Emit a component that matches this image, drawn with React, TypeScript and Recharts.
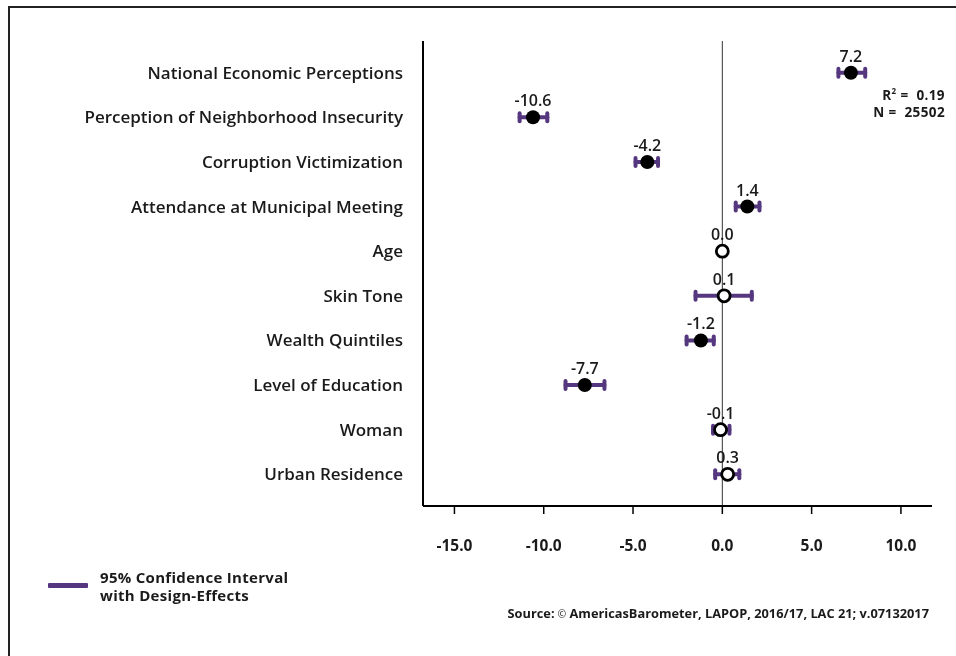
import React from 'react';
import { ScatterChart, Scatter, XAxis, YAxis, ErrorBar, ReferenceLine } from 'recharts';

const predictors = [
  'National Economic Perceptions',
  'Perception of Neighborhood Insecurity',
  'Corruption Victimization',
  'Attendance at Municipal Meeting ',
  'Age',
  'Skin Tone',
  'Wealth Quintiles',
  'Level of Education',
  'Woman',
  'Urban Residence',
];
const coefficients = [7.2, -10.6, -4.2, 1.4, 0.0, 0.1, -1.2, -7.7, -0.1, 0.3];
const ciLow = [6.5, -11.35, -4.86, 0.75, -0.15, -1.5, -2.0, -8.78, -0.52, -0.4];
const ciHigh = [8.0, -9.8, -3.6, 2.08, 0.15, 1.65, -0.48, -6.6, 0.4, 0.95];
const significant = [true, true, true, true, false, false, true, true, false, false];
const xTicks = [-15, -10, -5, 0, 5, 10];
const rowTicks = [0, 1, 2, 3, 4, 5, 6, 7, 8, 9];

const rows = predictors.map((name, i) => ({
  row: i,
  name,
  coef: coefficients[i],
  err: [coefficients[i] - ciLow[i], ciHigh[i] - coefficients[i]],
  sig: significant[i],
}));

const FONT = '"Open Sans", sans-serif';
const PURPLE = '#55377f';
const INK = '#1a1a1a';

// point + value label above it
const CoefDot = (props: any) => {
  const { cx, cy, payload } = props;
  return (
    <g>
      {payload.sig ? (
        <circle cx={cx} cy={cy} r={7} fill="#000" />
      ) : (
        <circle cx={cx} cy={cy} r={6} fill="#fff" stroke="#000" strokeWidth={2.8} />
      )}
      <text x={cx} y={cy - 11} textAnchor="middle" fontFamily={FONT} fontSize={16} fontWeight={600} fill={INK}>
        {payload.coef.toFixed(1)}
      </text>
    </g>
  );
};

export default function App() {
  return (
    <div style={{ position: 'relative', width: 948, height: 642, marginTop: -2, fontFamily: FONT }}>
      <div
        style={{
          position: 'fixed', left: 8, top: 6, width: 948, height: 650, boxSizing: 'border-box',
          borderTop: '2px solid #222', borderLeft: '2px solid #222', pointerEvents: 'none',
        }}
      />
      <ScatterChart width={948} height={640} margin={{ top: 35, right: 24, left: 15, bottom: 80 }}>
        <XAxis
          type="number"
          dataKey="coef"
          domain={[-16.76, 11.74]}
          allowDataOverflow
          ticks={xTicks}
          interval={0}
          tickFormatter={(v: number) => v.toFixed(1)}
          height={60}
          tickSize={8}
          tickMargin={26}
          axisLine={{ stroke: '#000', strokeWidth: 2 }}
          tickLine={{ stroke: '#000', strokeWidth: 1.5 }}
          tick={{ fill: INK, fontSize: 15.5, fontWeight: 700, fontFamily: FONT }}
        />
        <YAxis
          type="number"
          dataKey="row"
          domain={[-0.71, 9.71]}
          allowDataOverflow
          reversed
          ticks={rowTicks}
          interval={0}
          tickFormatter={(i: number) => predictors[i]}
          width={400}
          tickLine={false}
          tickSize={0}
          tickMargin={20}
          axisLine={{ stroke: '#000', strokeWidth: 2 }}
          tick={{ fill: INK, fontSize: 17, fontWeight: 600, fontFamily: FONT }}
        />
        <ReferenceLine x={0} stroke="#333" strokeWidth={1} />
        <Scatter data={rows} shape={CoefDot} isAnimationActive={false}>
          <ErrorBar dataKey="err" direction="x" width={4} stroke={PURPLE} strokeWidth={4} strokeLinecap="round" />
        </Scatter>
      </ScatterChart>

      {/* fit statistics */}
      <div
        style={{
          position: 'absolute', right: 11, top: 81, textAlign: 'right', fontSize: 13.5, lineHeight: '17px',
          fontWeight: 700, color: INK, whiteSpace: 'pre', letterSpacing: 0.4,
        }}
      >
        <div>
          R<sup style={{ fontSize: 8, verticalAlign: 6, lineHeight: 0 }}>2</sup> =  0.19
        </div>
        <div>N =  25502</div>
      </div>

      {/* legend */}
      <div style={{ position: 'absolute', left: 40, top: 577, width: 40, height: 5, background: PURPLE, borderRadius: 1 }} />
      <div
        style={{
          position: 'absolute', left: 92, top: 562, fontSize: 15, lineHeight: '18px', fontWeight: 700, color: INK,
          letterSpacing: 0.3,
        }}
      >
        <div>95% Confidence Interval</div>
        <div>with Design-Effects</div>
      </div>

      {/* source */}
      <div
        style={{
          position: 'absolute', right: 27, top: 600, fontSize: 12.8, lineHeight: '15px', fontWeight: 700, color: INK,
          whiteSpace: 'nowrap',
        }}
      >
        Source: <span style={{ fontWeight: 400, fontSize: 10 }}>©</span> AmericasBarometer, LAPOP, 2016/17, LAC 21; v.07132017
      </div>
    </div>
  );
}
